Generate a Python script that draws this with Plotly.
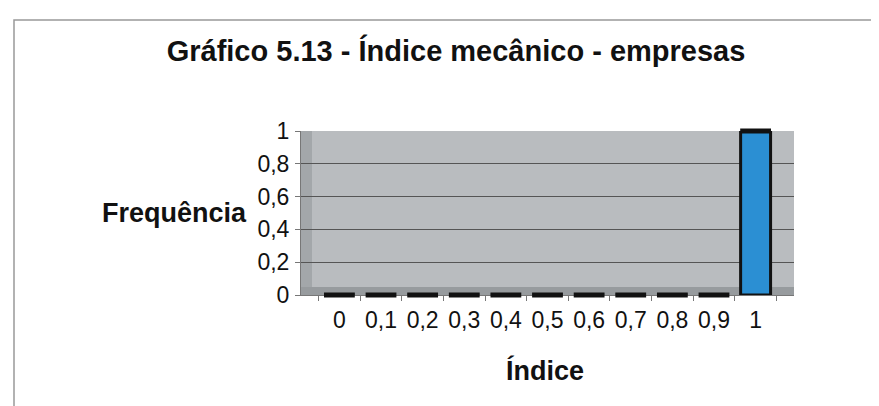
import plotly.graph_objects as go

# ---- data ----
categorias = ["0", "0,1", "0,2", "0,3", "0,4", "0,5", "0,6", "0,7", "0,8", "0,9", "1"]
frequencia = [0, 0, 0, 0, 0, 0, 0, 0, 0, 0, 1]
y_ticks = [0, 0.2, 0.4, 0.6, 0.8, 1]
y_tick_labels = ["0", "0,2", "0,4", "0,6", "0,8", "1"]

titulo = "Gráfico 5.13 - Índice mecânico - empresas"
titulo_y = "Frequência"
titulo_x = "Índice"

# ---- layout geometry (pixels) ----
W, H = 879, 406
L, R, T, B = 293, 93, 123, 119
PW = W - L - R
PH = H - T - B


def px_x(x):
    return (x - L) / PW


def px_y(y):
    return (H - B - y) / PH


FONT = "Liberation Sans, Arial, Helvetica, sans-serif"

fig = go.Figure()
fig.add_trace(go.Bar(
    x=categorias, y=frequencia, width=0.72,
    marker=dict(color="#2b8fd3", line=dict(color="#111111", width=3)),
    cliponaxis=False, hoverinfo="skip",
))
fig.add_trace(go.Scatter(
    x=categorias, y=frequencia, mode="markers",
    marker=dict(symbol="line-ew", size=22, color="#111111",
                line=dict(color="#111111", width=5)),
    cliponaxis=False, hoverinfo="skip",
))

fig.update_layout(
    width=W, height=H, autosize=False,
    margin=dict(l=L, r=R, t=T, b=B, pad=0),
    paper_bgcolor="white", plot_bgcolor="#b9bcbf",
    showlegend=False, separators=",.",
    font=dict(family=FONT, color="#111111", size=23),
    title=dict(text="<b>" + titulo + "</b>", x=448 / W, xanchor="center",
               y=1 - 43 / H, yanchor="middle",
               font=dict(size=29, family=FONT, color="#111111")),
)
fig.update_xaxes(
    type="category", tickson="boundaries", ticks="outside", ticklen=5,
    tickcolor="#777777", showline=True, linecolor="#777777", linewidth=1,
    showgrid=False, tickfont=dict(size=23), ticklabelstandoff=4,
    layer="below traces",
)
fig.update_yaxes(
    range=[0, 1], tickvals=y_ticks, ticktext=y_tick_labels,
    ticks="outside", ticklen=5, tickcolor="#777777",
    showline=True, linecolor="#777777", linewidth=1,
    showgrid=True, gridcolor="#555555", gridwidth=1, zeroline=False,
    tickfont=dict(size=23), ticklabelstandoff=1,
)

fig.add_annotation(text="<b>" + titulo_y + "</b>", xref="paper", yref="paper",
                   x=px_x(166), y=px_y(205), xanchor="center", yanchor="middle",
                   showarrow=False, font=dict(size=27, family=FONT, color="#111111"))
fig.add_annotation(text="<b>" + titulo_x + "</b>", xref="paper", yref="paper",
                   x=px_x(537), y=px_y(362), xanchor="center", yanchor="middle",
                   showarrow=False, font=dict(size=27, family=FONT, color="#111111"))

# outer frame (top and left edges visible)
fig.add_shape(type="path", xref="paper", yref="paper",
              path=f"M {px_x(6)},{px_y(430)} L {px_x(6)},{px_y(12)} L {px_x(900)},{px_y(12)}",
              line=dict(color="#999999", width=1.5))
# 3D-like side wall and floor
fig.add_shape(type="rect", xref="paper", yref="paper", layer="between",
              x0=0, x1=px_x(304), y0=0, y1=1,
              fillcolor="#a3a7aa", line=dict(width=0))
fig.add_shape(type="rect", xref="paper", yref="paper", layer="between",
              x0=0, x1=1, y0=0, y1=px_y(279),
              fillcolor="#979b9e", line=dict(width=0))

fig.write_html("out.html")
